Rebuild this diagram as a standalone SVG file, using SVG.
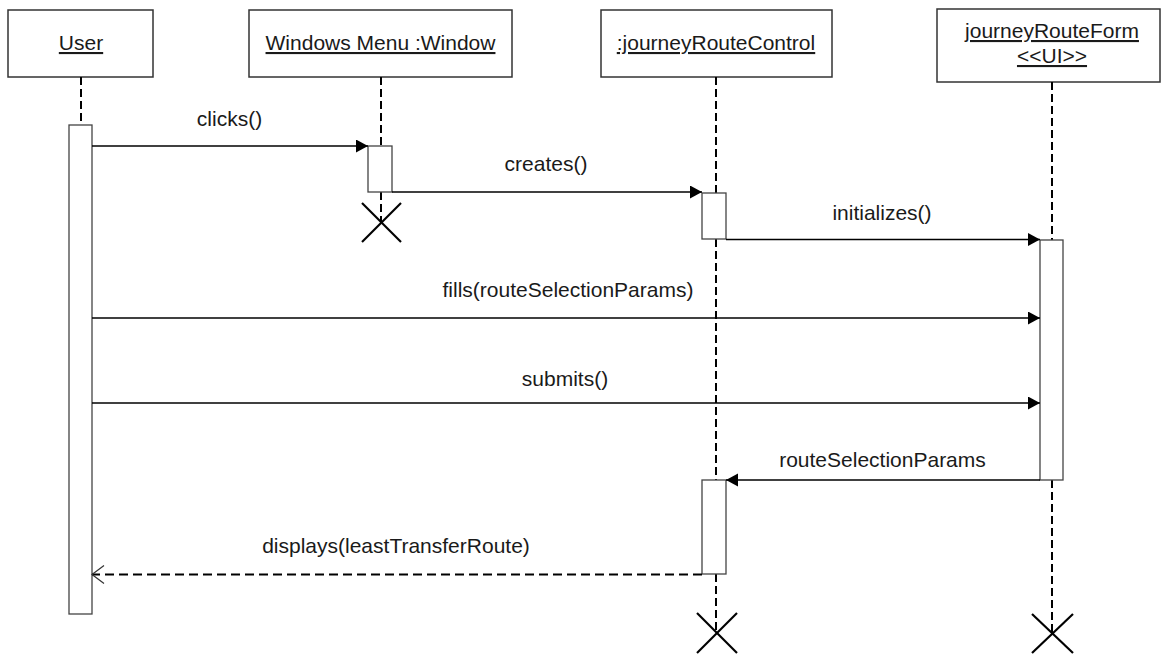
<svg xmlns="http://www.w3.org/2000/svg" width="1161" height="656" viewBox="0 0 1161 656">
<style>
.box{fill:#fff;stroke:#333;stroke-width:1.5}
.act{fill:#fff;stroke:#444;stroke-width:1.3}
.life{stroke:#000;stroke-width:2;stroke-dasharray:8 4;fill:none}
.msg{stroke:#000;stroke-width:1.5;fill:none}
.ret{stroke:#000;stroke-width:2;stroke-dasharray:9 5;fill:none}
.x{stroke:#000;stroke-width:2.2}
text{font-family:"Liberation Sans",Arial,Helvetica,sans-serif;font-size:21px;fill:#1a1a1a}
.name{text-anchor:middle;text-decoration:underline}
.lbl{text-anchor:middle}
</style>
<defs>
<marker id="filled" markerUnits="userSpaceOnUse" markerWidth="13" markerHeight="14" refX="12" refY="6.5" orient="auto">
<path d="M0,0 L12,6.5 L0,13 z" fill="#000"/>
</marker>
<marker id="open" markerUnits="userSpaceOnUse" markerWidth="14" markerHeight="20" refX="13" refY="9.5" orient="auto">
<path d="M1,0.5 L13,9.5 L1,18.5" fill="none" stroke="#333" stroke-width="1.2"/>
</marker>
</defs>
<rect width="1161" height="656" fill="#fff"/>

<g id="user">
<rect class="box" x="8" y="10" width="145" height="67"/>
<text class="name" x="81" y="50">User</text>
<line class="life" x1="81" y1="77" x2="81" y2="125"/>
<rect class="act" x="69" y="125" width="23" height="489"/>
</g>

<g id="window">
<rect class="box" x="249" y="10" width="263" height="67"/>
<text class="name" x="380.5" y="50">Windows Menu :Window</text>
<line class="life" x1="381" y1="77" x2="381" y2="146"/>
<line class="life" x1="381" y1="192" x2="381" y2="222"/>
<rect class="act" x="368" y="146" width="24" height="46"/>
<line class="x" x1="362" y1="203" x2="401" y2="242"/>
<line class="x" x1="401" y1="203" x2="362" y2="242"/>
</g>

<g id="control">
<rect class="box" x="601" y="10" width="231" height="67"/>
<text class="name" x="716" y="50">:journeyRouteControl</text>
<line class="life" x1="716" y1="77" x2="716" y2="193"/>
<line class="life" x1="716" y1="239" x2="716" y2="480"/>
<line class="life" x1="716" y1="574" x2="716" y2="633"/>
<rect class="act" x="702" y="193" width="24" height="46"/>
<rect class="act" x="702" y="480" width="24" height="94"/>
<line class="x" x1="697" y1="613" x2="737" y2="653"/>
<line class="x" x1="737" y1="613" x2="697" y2="653"/>
</g>

<g id="form">
<rect class="box" x="937" y="9" width="223" height="73"/>
<text class="name" x="1052" y="38">journeyRouteForm</text>
<text class="name" x="1052" y="63">&lt;&lt;UI&gt;&gt;</text>
<line class="life" x1="1052" y1="82" x2="1052" y2="240"/>
<line class="life" x1="1052" y1="480" x2="1052" y2="633"/>
<rect class="act" x="1040" y="240" width="23" height="240"/>
<line class="x" x1="1032" y1="614" x2="1073" y2="653"/>
<line class="x" x1="1073" y1="614" x2="1032" y2="653"/>
</g>

<g id="connectors">
<line class="msg" x1="92" y1="146" x2="368" y2="146" marker-end="url(#filled)"/>
<text class="lbl" x="229.5" y="126">clicks()</text>
<line class="msg" x1="392" y1="192" x2="702" y2="192" marker-end="url(#filled)"/>
<text class="lbl" x="546" y="171">creates()</text>
<line class="msg" x1="726" y1="239.5" x2="1040" y2="239.5" marker-end="url(#filled)"/>
<text class="lbl" x="882" y="220">initializes()</text>
<line class="msg" x1="92" y1="318" x2="1040" y2="318" marker-end="url(#filled)"/>
<text class="lbl" x="568" y="297">fills(routeSelectionParams)</text>
<line class="msg" x1="92" y1="403" x2="1040" y2="403" marker-end="url(#filled)"/>
<text class="lbl" x="565" y="386">submits()</text>
<line class="msg" x1="1040" y1="480" x2="726" y2="480" marker-end="url(#filled)"/>
<text class="lbl" x="882.5" y="467">routeSelectionParams</text>
<line class="ret" x1="702" y1="574.5" x2="92" y2="574.5" marker-end="url(#open)"/>
<text class="lbl" x="396" y="553">displays(leastTransferRoute)</text>
</g>
</svg>
